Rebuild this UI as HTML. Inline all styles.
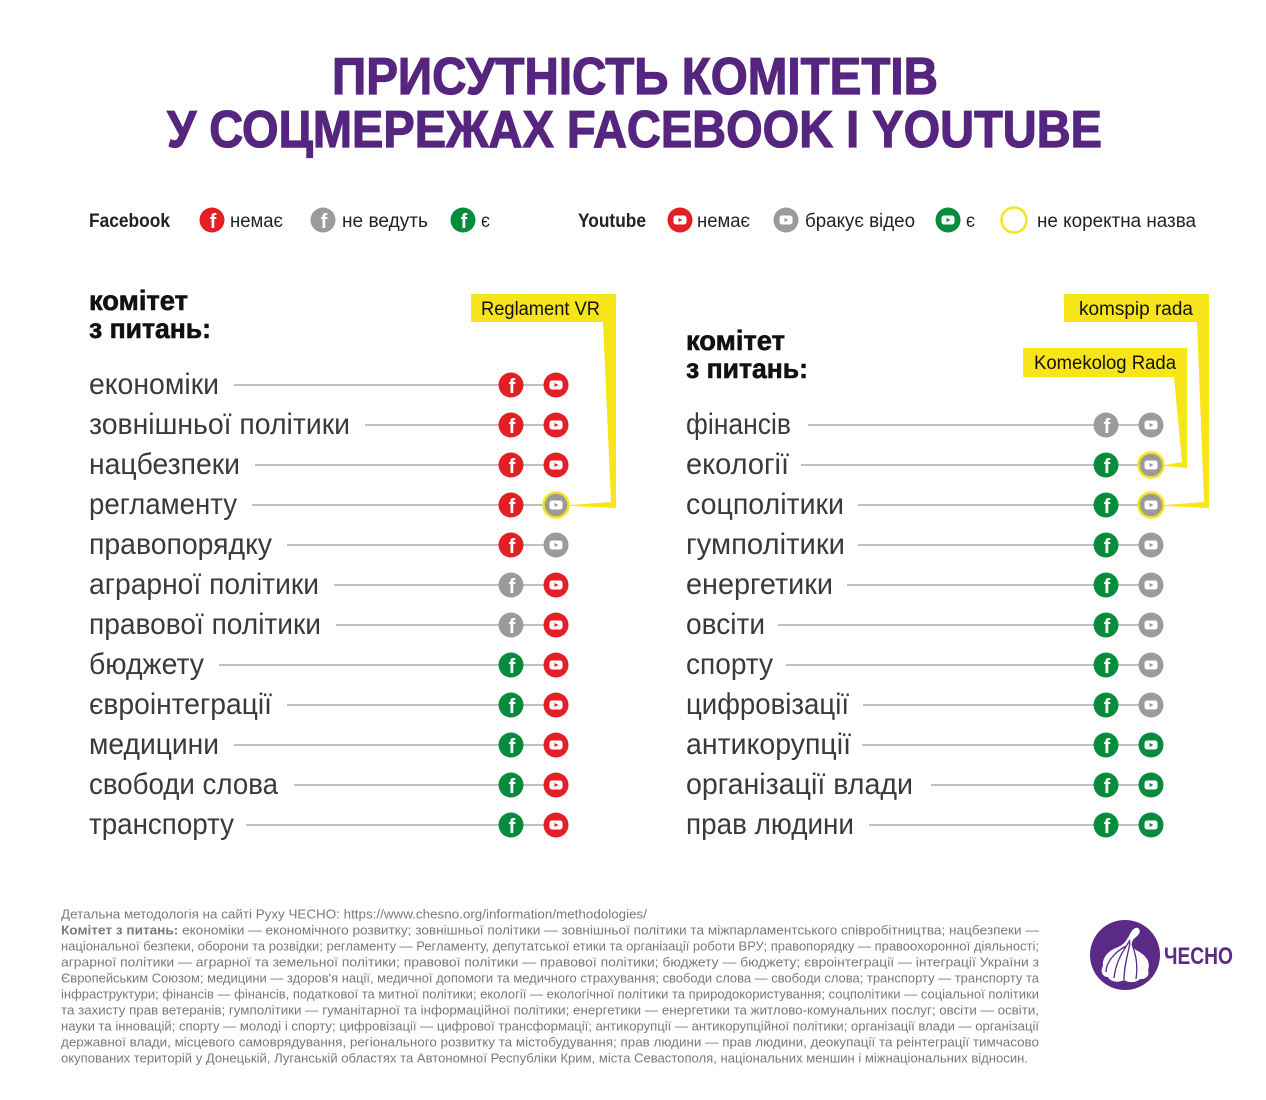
<!DOCTYPE html>
<html><head><meta charset="utf-8"><style>
html,body{margin:0;padding:0;background:#fff;}
svg{display:block;}
.t{font-family:"Liberation Sans","DejaVu Sans",sans-serif;}
</style></head><body>
<svg width="1266" height="1100" viewBox="0 0 1266 1100" xmlns="http://www.w3.org/2000/svg" class="t">
<rect width="1266" height="1100" fill="#fff"/>
<!-- Title -->
<text x="332" y="94" font-size="52" font-weight="bold" fill="#55257f" stroke="#55257f" stroke-width="1.2" textLength="606" lengthAdjust="spacingAndGlyphs">ПРИСУТНІСТЬ КОМІТЕТІВ</text>
<text x="167" y="147" font-size="52" font-weight="bold" fill="#55257f" stroke="#55257f" stroke-width="1.2" textLength="935" lengthAdjust="spacingAndGlyphs">У СОЦМЕРЕЖАХ FACEBOOK І YOUTUBE</text>

<!-- Legend -->
<g font-size="19" fill="#222">
<text x="89" y="227" font-weight="bold" textLength="81" lengthAdjust="spacingAndGlyphs">Facebook</text>
<circle cx="212" cy="220" r="12.5" fill="#e31e24"/><text x="213" y="228" font-size="20" font-weight="bold" fill="#fff" text-anchor="middle">f</text>
<text x="230" y="227" textLength="53" lengthAdjust="spacingAndGlyphs">немає</text>
<circle cx="323" cy="220" r="12.5" fill="#9b9b9b"/><text x="324" y="228" font-size="20" font-weight="bold" fill="#fff" text-anchor="middle">f</text>
<text x="342" y="227" textLength="86" lengthAdjust="spacingAndGlyphs">не ведуть</text>
<circle cx="463" cy="220" r="12.5" fill="#078b3c"/><text x="464" y="228" font-size="20" font-weight="bold" fill="#fff" text-anchor="middle">f</text>
<text x="481" y="227" textLength="9" lengthAdjust="spacingAndGlyphs">є</text>

<text x="578" y="227" font-weight="bold" textLength="68" lengthAdjust="spacingAndGlyphs">Youtube</text>
<circle cx="680" cy="220" r="12.5" fill="#e31e24"/><rect x="673.5" y="215.5" width="13" height="9" rx="2.5" fill="#fff"/><path d="M678.5 218 L682.5 220 L678.5 222 Z" fill="#e31e24"/>
<text x="697" y="227" textLength="53" lengthAdjust="spacingAndGlyphs">немає</text>
<circle cx="786" cy="220" r="12.5" fill="#9b9b9b"/><rect x="779.5" y="215.5" width="13" height="9" rx="2.5" fill="#fff"/><path d="M784.5 218 L788.5 220 L784.5 222 Z" fill="#9b9b9b"/>
<text x="805" y="227" textLength="110" lengthAdjust="spacingAndGlyphs">бракує відео</text>
<circle cx="948" cy="220" r="12.5" fill="#078b3c"/><rect x="941.5" y="215.5" width="13" height="9" rx="2.5" fill="#fff"/><path d="M946.5 218 L950.5 220 L946.5 222 Z" fill="#078b3c"/>
<text x="966" y="227" textLength="9" lengthAdjust="spacingAndGlyphs">є</text>
<circle cx="1014" cy="220" r="12.5" fill="none" stroke="#f3e41c" stroke-width="2.5"/>
<text x="1037" y="227" textLength="159" lengthAdjust="spacingAndGlyphs">не коректна назва</text>
</g>

<!-- Yellow callouts -->
<g fill="#f7e51a">
<rect x="471" y="294" width="145" height="28"/>
<polygon points="603,322 616,322 616,508 570,506 570,505 611,502"/>
<rect x="1064" y="294" width="145" height="28"/>
<polygon points="1197,322 1209,322 1209,508 1165,506 1165,505 1204,502"/>
<rect x="1023" y="348" width="164" height="29"/>
<polygon points="1174,377 1187,377 1187,468 1165,466 1165,465 1182,462"/>
</g>
<g font-size="19" fill="#111">
<text x="481" y="315" textLength="119" lengthAdjust="spacingAndGlyphs">Reglament VR</text>
<text x="1079" y="315" textLength="114" lengthAdjust="spacingAndGlyphs">komspip rada</text>
<text x="1034" y="369" textLength="142" lengthAdjust="spacingAndGlyphs">Komekolog Rada</text>
</g>

<!-- Headers -->
<g font-size="28" font-weight="bold" fill="#111" stroke="#111" stroke-width="0.6">
<text x="89" y="310" textLength="99" lengthAdjust="spacingAndGlyphs">комітет</text>
<text x="89" y="338" textLength="122" lengthAdjust="spacingAndGlyphs">з питань:</text>
<text x="686" y="350" textLength="99" lengthAdjust="spacingAndGlyphs">комітет</text>
<text x="686" y="378" textLength="122" lengthAdjust="spacingAndGlyphs">з питань:</text>
</g>

<!-- Lines -->
<g stroke="#9a9a9a" stroke-width="1.2">
<line x1="234" y1="385" x2="556" y2="385"/>
<line x1="365" y1="425" x2="556" y2="425"/>
<line x1="255" y1="465" x2="556" y2="465"/>
<line x1="252" y1="505" x2="556" y2="505"/>
<line x1="287" y1="545" x2="556" y2="545"/>
<line x1="334" y1="585" x2="556" y2="585"/>
<line x1="336" y1="625" x2="556" y2="625"/>
<line x1="219" y1="665" x2="556" y2="665"/>
<line x1="287" y1="705" x2="556" y2="705"/>
<line x1="234" y1="745" x2="556" y2="745"/>
<line x1="294" y1="785" x2="556" y2="785"/>
<line x1="246" y1="825" x2="556" y2="825"/>

<line x1="808" y1="425" x2="1151" y2="425"/>
<line x1="801" y1="465" x2="1151" y2="465"/>
<line x1="858" y1="505" x2="1151" y2="505"/>
<line x1="858" y1="545" x2="1151" y2="545"/>
<line x1="847" y1="585" x2="1151" y2="585"/>
<line x1="778" y1="625" x2="1151" y2="625"/>
<line x1="786" y1="665" x2="1151" y2="665"/>
<line x1="863" y1="705" x2="1151" y2="705"/>
<line x1="862" y1="745" x2="1151" y2="745"/>
<line x1="931" y1="785" x2="1151" y2="785"/>
<line x1="869" y1="825" x2="1151" y2="825"/>
</g>

<!-- Row labels -->
<g font-size="30" fill="#3a3a3a">
<text x="89" y="394" textLength="130" lengthAdjust="spacingAndGlyphs">економіки</text>
<text x="89" y="434" textLength="261" lengthAdjust="spacingAndGlyphs">зовнішньої політики</text>
<text x="89" y="474" textLength="151" lengthAdjust="spacingAndGlyphs">нацбезпеки</text>
<text x="89" y="514" textLength="148" lengthAdjust="spacingAndGlyphs">регламенту</text>
<text x="89" y="554" textLength="183" lengthAdjust="spacingAndGlyphs">правопорядку</text>
<text x="89" y="594" textLength="230" lengthAdjust="spacingAndGlyphs">аграрної політики</text>
<text x="89" y="634" textLength="232" lengthAdjust="spacingAndGlyphs">правової політики</text>
<text x="89" y="674" textLength="115" lengthAdjust="spacingAndGlyphs">бюджету</text>
<text x="89" y="714" textLength="183" lengthAdjust="spacingAndGlyphs">євроінтеграції</text>
<text x="89" y="754" textLength="130" lengthAdjust="spacingAndGlyphs">медицини</text>
<text x="89" y="794" textLength="189" lengthAdjust="spacingAndGlyphs">свободи слова</text>
<text x="89" y="834" textLength="145" lengthAdjust="spacingAndGlyphs">транспорту</text>

<text x="686" y="434" textLength="105" lengthAdjust="spacingAndGlyphs">фінансів</text>
<text x="686" y="474" textLength="103" lengthAdjust="spacingAndGlyphs">екології</text>
<text x="686" y="514" textLength="158" lengthAdjust="spacingAndGlyphs">соцполітики</text>
<text x="686" y="554" textLength="159" lengthAdjust="spacingAndGlyphs">гумполітики</text>
<text x="686" y="594" textLength="147" lengthAdjust="spacingAndGlyphs">енергетики</text>
<text x="686" y="634" textLength="79" lengthAdjust="spacingAndGlyphs">овсіти</text>
<text x="686" y="674" textLength="87" lengthAdjust="spacingAndGlyphs">спорту</text>
<text x="686" y="714" textLength="163" lengthAdjust="spacingAndGlyphs">цифровізації</text>
<text x="686" y="754" textLength="165" lengthAdjust="spacingAndGlyphs">антикорупції</text>
<text x="686" y="794" textLength="227" lengthAdjust="spacingAndGlyphs">організації влади</text>
<text x="686" y="834" textLength="168" lengthAdjust="spacingAndGlyphs">прав людини</text>
</g>

<!-- Icons: FB -->
<g font-size="20" font-weight="bold" fill="#fff" text-anchor="middle">
<circle cx="511" cy="385" r="12.5" fill="#e31e24"/><text x="512" y="393">f</text>
<circle cx="511" cy="425" r="12.5" fill="#e31e24"/><text x="512" y="433">f</text>
<circle cx="511" cy="465" r="12.5" fill="#e31e24"/><text x="512" y="473">f</text>
<circle cx="511" cy="505" r="12.5" fill="#e31e24"/><text x="512" y="513">f</text>
<circle cx="511" cy="545" r="12.5" fill="#e31e24"/><text x="512" y="553">f</text>
<circle cx="511" cy="585" r="12.5" fill="#9b9b9b"/><text x="512" y="593">f</text>
<circle cx="511" cy="625" r="12.5" fill="#9b9b9b"/><text x="512" y="633">f</text>
<circle cx="511" cy="665" r="12.5" fill="#078b3c"/><text x="512" y="673">f</text>
<circle cx="511" cy="705" r="12.5" fill="#078b3c"/><text x="512" y="713">f</text>
<circle cx="511" cy="745" r="12.5" fill="#078b3c"/><text x="512" y="753">f</text>
<circle cx="511" cy="785" r="12.5" fill="#078b3c"/><text x="512" y="793">f</text>
<circle cx="511" cy="825" r="12.5" fill="#078b3c"/><text x="512" y="833">f</text>

<circle cx="1106" cy="425" r="12.5" fill="#9b9b9b"/><text x="1107" y="433">f</text>
<circle cx="1106" cy="465" r="12.5" fill="#078b3c"/><text x="1107" y="473">f</text>
<circle cx="1106" cy="505" r="12.5" fill="#078b3c"/><text x="1107" y="513">f</text>
<circle cx="1106" cy="545" r="12.5" fill="#078b3c"/><text x="1107" y="553">f</text>
<circle cx="1106" cy="585" r="12.5" fill="#078b3c"/><text x="1107" y="593">f</text>
<circle cx="1106" cy="625" r="12.5" fill="#078b3c"/><text x="1107" y="633">f</text>
<circle cx="1106" cy="665" r="12.5" fill="#078b3c"/><text x="1107" y="673">f</text>
<circle cx="1106" cy="705" r="12.5" fill="#078b3c"/><text x="1107" y="713">f</text>
<circle cx="1106" cy="745" r="12.5" fill="#078b3c"/><text x="1107" y="753">f</text>
<circle cx="1106" cy="785" r="12.5" fill="#078b3c"/><text x="1107" y="793">f</text>
<circle cx="1106" cy="825" r="12.5" fill="#078b3c"/><text x="1107" y="833">f</text>
</g>

<!-- YT icons -->
<g>
<g transform="translate(556,385)"><circle r="12.5" fill="#e31e24"/><rect x="-6.5" y="-4.5" width="13" height="9" rx="2.5" fill="#fff"/><path d="M-1.5 -2 L2.5 0 L-1.5 2 Z" fill="#e31e24"/></g>
<g transform="translate(556,425)"><circle r="12.5" fill="#e31e24"/><rect x="-6.5" y="-4.5" width="13" height="9" rx="2.5" fill="#fff"/><path d="M-1.5 -2 L2.5 0 L-1.5 2 Z" fill="#e31e24"/></g>
<g transform="translate(556,465)"><circle r="12.5" fill="#e31e24"/><rect x="-6.5" y="-4.5" width="13" height="9" rx="2.5" fill="#fff"/><path d="M-1.5 -2 L2.5 0 L-1.5 2 Z" fill="#e31e24"/></g>
<g transform="translate(556,505)"><circle r="12.5" fill="#9b9b9b" stroke="#f3e41c" stroke-width="2.5"/><rect x="-6.5" y="-4.5" width="13" height="9" rx="2.5" fill="#fff"/><path d="M-1.5 -2 L2.5 0 L-1.5 2 Z" fill="#9b9b9b"/></g>
<g transform="translate(556,545)"><circle r="12.5" fill="#9b9b9b"/><rect x="-6.5" y="-4.5" width="13" height="9" rx="2.5" fill="#fff"/><path d="M-1.5 -2 L2.5 0 L-1.5 2 Z" fill="#9b9b9b"/></g>
<g transform="translate(556,585)"><circle r="12.5" fill="#e31e24"/><rect x="-6.5" y="-4.5" width="13" height="9" rx="2.5" fill="#fff"/><path d="M-1.5 -2 L2.5 0 L-1.5 2 Z" fill="#e31e24"/></g>
<g transform="translate(556,625)"><circle r="12.5" fill="#e31e24"/><rect x="-6.5" y="-4.5" width="13" height="9" rx="2.5" fill="#fff"/><path d="M-1.5 -2 L2.5 0 L-1.5 2 Z" fill="#e31e24"/></g>
<g transform="translate(556,665)"><circle r="12.5" fill="#e31e24"/><rect x="-6.5" y="-4.5" width="13" height="9" rx="2.5" fill="#fff"/><path d="M-1.5 -2 L2.5 0 L-1.5 2 Z" fill="#e31e24"/></g>
<g transform="translate(556,705)"><circle r="12.5" fill="#e31e24"/><rect x="-6.5" y="-4.5" width="13" height="9" rx="2.5" fill="#fff"/><path d="M-1.5 -2 L2.5 0 L-1.5 2 Z" fill="#e31e24"/></g>
<g transform="translate(556,745)"><circle r="12.5" fill="#e31e24"/><rect x="-6.5" y="-4.5" width="13" height="9" rx="2.5" fill="#fff"/><path d="M-1.5 -2 L2.5 0 L-1.5 2 Z" fill="#e31e24"/></g>
<g transform="translate(556,785)"><circle r="12.5" fill="#e31e24"/><rect x="-6.5" y="-4.5" width="13" height="9" rx="2.5" fill="#fff"/><path d="M-1.5 -2 L2.5 0 L-1.5 2 Z" fill="#e31e24"/></g>
<g transform="translate(556,825)"><circle r="12.5" fill="#e31e24"/><rect x="-6.5" y="-4.5" width="13" height="9" rx="2.5" fill="#fff"/><path d="M-1.5 -2 L2.5 0 L-1.5 2 Z" fill="#e31e24"/></g>
<g transform="translate(1151,425)"><circle r="12.5" fill="#9b9b9b"/><rect x="-6.5" y="-4.5" width="13" height="9" rx="2.5" fill="#fff"/><path d="M-1.5 -2 L2.5 0 L-1.5 2 Z" fill="#9b9b9b"/></g>
<g transform="translate(1151,465)"><circle r="12.5" fill="#9b9b9b" stroke="#f3e41c" stroke-width="2.5"/><rect x="-6.5" y="-4.5" width="13" height="9" rx="2.5" fill="#fff"/><path d="M-1.5 -2 L2.5 0 L-1.5 2 Z" fill="#9b9b9b"/></g>
<g transform="translate(1151,505)"><circle r="12.5" fill="#9b9b9b" stroke="#f3e41c" stroke-width="2.5"/><rect x="-6.5" y="-4.5" width="13" height="9" rx="2.5" fill="#fff"/><path d="M-1.5 -2 L2.5 0 L-1.5 2 Z" fill="#9b9b9b"/></g>
<g transform="translate(1151,545)"><circle r="12.5" fill="#9b9b9b"/><rect x="-6.5" y="-4.5" width="13" height="9" rx="2.5" fill="#fff"/><path d="M-1.5 -2 L2.5 0 L-1.5 2 Z" fill="#9b9b9b"/></g>
<g transform="translate(1151,585)"><circle r="12.5" fill="#9b9b9b"/><rect x="-6.5" y="-4.5" width="13" height="9" rx="2.5" fill="#fff"/><path d="M-1.5 -2 L2.5 0 L-1.5 2 Z" fill="#9b9b9b"/></g>
<g transform="translate(1151,625)"><circle r="12.5" fill="#9b9b9b"/><rect x="-6.5" y="-4.5" width="13" height="9" rx="2.5" fill="#fff"/><path d="M-1.5 -2 L2.5 0 L-1.5 2 Z" fill="#9b9b9b"/></g>
<g transform="translate(1151,665)"><circle r="12.5" fill="#9b9b9b"/><rect x="-6.5" y="-4.5" width="13" height="9" rx="2.5" fill="#fff"/><path d="M-1.5 -2 L2.5 0 L-1.5 2 Z" fill="#9b9b9b"/></g>
<g transform="translate(1151,705)"><circle r="12.5" fill="#9b9b9b"/><rect x="-6.5" y="-4.5" width="13" height="9" rx="2.5" fill="#fff"/><path d="M-1.5 -2 L2.5 0 L-1.5 2 Z" fill="#9b9b9b"/></g>
<g transform="translate(1151,745)"><circle r="12.5" fill="#078b3c"/><rect x="-6.5" y="-4.5" width="13" height="9" rx="2.5" fill="#fff"/><path d="M-1.5 -2 L2.5 0 L-1.5 2 Z" fill="#078b3c"/></g>
<g transform="translate(1151,785)"><circle r="12.5" fill="#078b3c"/><rect x="-6.5" y="-4.5" width="13" height="9" rx="2.5" fill="#fff"/><path d="M-1.5 -2 L2.5 0 L-1.5 2 Z" fill="#078b3c"/></g>
<g transform="translate(1151,825)"><circle r="12.5" fill="#078b3c"/><rect x="-6.5" y="-4.5" width="13" height="9" rx="2.5" fill="#fff"/><path d="M-1.5 -2 L2.5 0 L-1.5 2 Z" fill="#078b3c"/></g>
</g>

<!-- Footnote -->
<g font-size="12.5" fill="#7a7a7a">
<text x="61" y="918.5" textLength="586" lengthAdjust="spacingAndGlyphs">Детальна методологія на сайті Руху ЧЕСНО: https://www.chesno.org/information/methodologies/</text>
<text x="61" y="934.5" textLength="978" lengthAdjust="spacingAndGlyphs"><tspan font-weight="bold">Комітет з питань:</tspan> економіки — економічного розвитку; зовнішньої політики — зовнішньої політики та міжпарламентського співробітництва; нацбезпеки —</text>
<text x="61" y="950.5" textLength="978" lengthAdjust="spacingAndGlyphs">національної безпеки, оборони та розвідки; регламенту — Регламенту, депутатської етики та організації роботи ВРУ; правопорядку — правоохоронної діяльності;</text>
<text x="61" y="966.5" textLength="978" lengthAdjust="spacingAndGlyphs">аграрної політики — аграрної та земельної політики; правової політики — правової політики; бюджету — бюджету; євроінтеграції — інтеграції України з</text>
<text x="61" y="982.5" textLength="978" lengthAdjust="spacingAndGlyphs">Європейським Союзом; медицини — здоров'я нації, медичної допомоги та медичного страхування; свободи слова — свободи слова; транспорту — транспорту та</text>
<text x="61" y="998.5" textLength="978" lengthAdjust="spacingAndGlyphs">інфраструктури; фінансів — фінансів, податкової та митної політики; екології — екологічної політики та природокористування; соцполітики — соціальної політики</text>
<text x="61" y="1014.5" textLength="978" lengthAdjust="spacingAndGlyphs">та захисту прав ветеранів; гумполітики — гуманітарної та інформаційної політики; енергетики — енергетики та житлово-комунальних послуг; овсіти — освіти,</text>
<text x="61" y="1030.5" textLength="978" lengthAdjust="spacingAndGlyphs">науки та інновацій; спорту — молоді і спорту; цифровізації — цифрової трансформації; антикорупції — антикорупційної політики; організації влади — організації</text>
<text x="61" y="1046.5" textLength="978" lengthAdjust="spacingAndGlyphs">державної влади, місцевого самоврядування, регіонального розвитку та містобудування; прав людини — прав людини, деокупації та реінтеграції тимчасово</text>
<text x="61" y="1062.5" textLength="967" lengthAdjust="spacingAndGlyphs">окупованих територій у Донецькій, Луганській областях та Автономної Республіки Крим, міста Севастополя, національних меншин і міжнаціональних відносин.</text>
</g>

<!-- Logo -->
<circle cx="1125" cy="955" r="35" fill="#5a2a86"/>
<path d="M1138 928 C1141 930 1140 934 1136 937 C1131 941 1130 946 1136 950 C1146 955 1151 962 1148 970 C1150 975 1146 980 1140 979 C1136 983 1128 983 1124 980 C1119 983 1110 982 1108 977 C1102 977 1100 971 1103 966 C1102 958 1108 951 1116 948 C1124 945 1127 940 1130 934 C1132 930 1135 927 1138 928 Z" fill="#fff"/>
<g stroke="#5a2a86" stroke-width="1.3" fill="none">
<path d="M1130 940 C1124 950 1116 960 1114 978"/>
<path d="M1130 942 C1128 955 1124 965 1124 980"/>
<path d="M1132 944 C1136 955 1138 965 1136 979"/>
<path d="M1126 946 C1115 952 1106 962 1106 972"/>
</g>
<text x="1164" y="964" font-size="24" font-weight="bold" fill="#5a2a86" textLength="69" lengthAdjust="spacingAndGlyphs">ЧЕСНО</text>
</svg>
</body></html>
